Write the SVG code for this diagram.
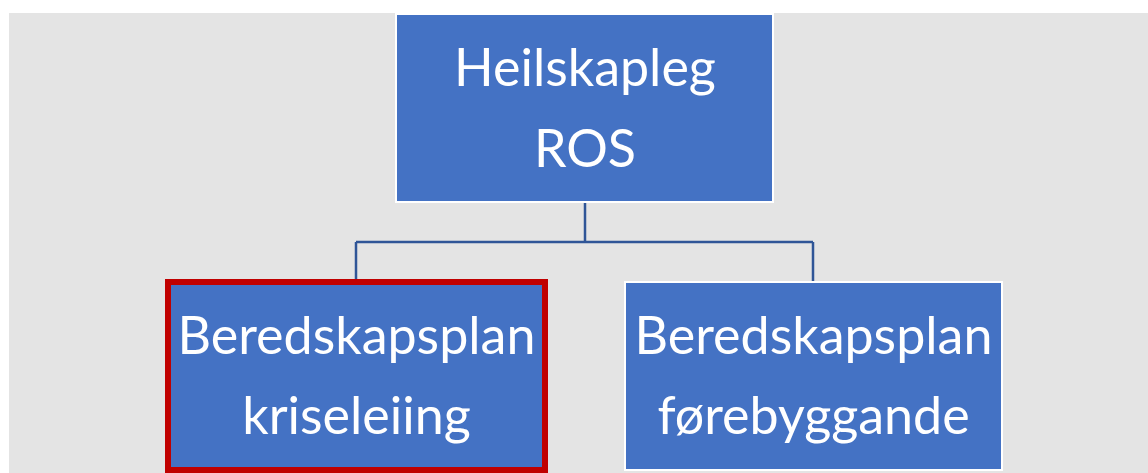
<svg xmlns="http://www.w3.org/2000/svg" width="1148" height="473" viewBox="0 0 1148 473">
<style>
.box{fill:#4472C4;stroke:#FFFFFF;stroke-width:2}
.sel{fill:#4472C4;stroke:#C00000;stroke-width:6}
.lbl{fill:#FFFFFF;font-family:Lato,"Open Sans",sans-serif;font-size:52px;text-anchor:middle}
.conn{fill:none;stroke:#2F5597;stroke-width:2.5}
</style>
<rect x="0" y="0" width="1148" height="473" fill="#FFFFFF"/>
<rect x="9" y="13" width="1139" height="460" fill="#E4E4E4"/>
<g id="connectors">
<path class="conn" d="M585 202 V242 M356 242 H813 M356 242 V280 M813 242 V282"/>
</g>
<g id="node-top">
<rect class="box" x="396" y="14" width="377" height="188"/>
<text class="lbl" x="585" y="86">Heilskapleg</text>
<text class="lbl" x="585" y="167">ROS</text>
</g>
<g id="node-left">
<rect class="sel" x="168" y="282" width="377" height="188"/>
<text class="lbl" x="356.5" y="354">Beredskapsplan</text>
<text class="lbl" x="356.5" y="434">kriseleiing</text>
</g>
<g id="node-right">
<rect class="box" x="625" y="282" width="377" height="188"/>
<text class="lbl" x="813.5" y="354">Beredskapsplan</text>
<text class="lbl" x="813.5" y="434">førebyggande</text>
</g>
</svg>
